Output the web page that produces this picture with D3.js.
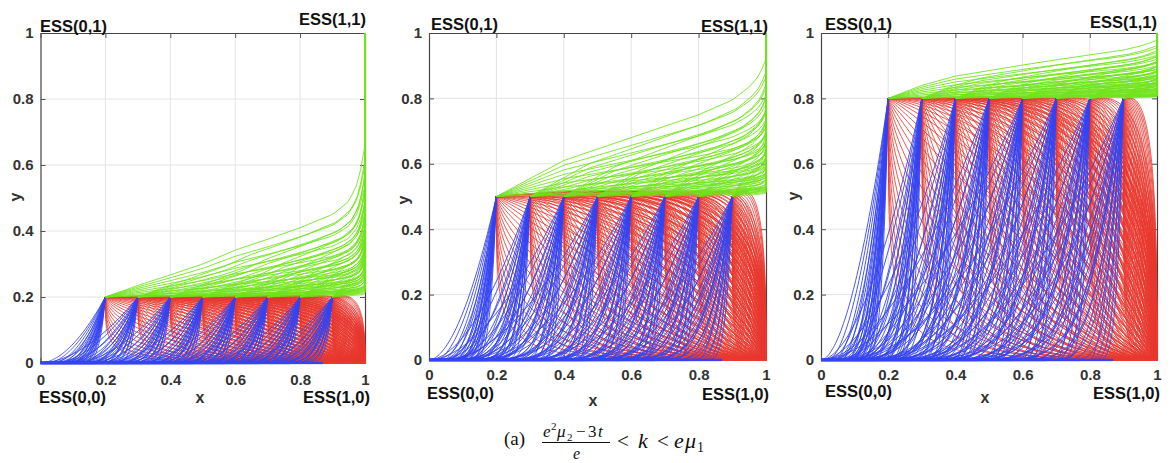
<!DOCTYPE html>
<html><head><meta charset="utf-8">
<script src="https://cdn.jsdelivr.net/npm/d3@7"></script>
<style>body{margin:0;background:#fff}</style>
</head><body><svg id="c" width="1173" height="463" xmlns="http://www.w3.org/2000/svg"></svg>
<script>
// ---------------- data ----------------
const panelH = [0.2, 0.5, 0.8];                 // height of the cusp row in each panel
const cuspX = [0.2, 0.3, 0.4, 0.5, 0.6, 0.7, 0.8, 0.9];
const tickValues = [0, 0.2, 0.4, 0.6, 0.8, 1];
const tickLabels = ["0", "0.2", "0.4", "0.6", "0.8", "1"];
const greenTopX  = [0.2, 0.3, 0.4, 0.5, 0.6, 0.7, 0.8, 0.9, 0.95, 0.98, 1.0];
const greenTopY1 = [0.2, 0.235, 0.267, 0.3, 0.342, 0.375, 0.41, 0.45, 0.49, 0.55, 0.66];
const greenTopY2 = [0.5, 0.555, 0.61, 0.645, 0.68, 0.715, 0.75, 0.795, 0.835, 0.87, 0.92];
const greenTopY3 = [0.8, 0.84, 0.868, 0.885, 0.902, 0.918, 0.933, 0.948, 0.96, 0.97, 0.978];
const blueMaxWidth = [0.3, 0.45, 0.6];          // how far left the blue fans reach
const blueShapes = [1.8, 2.8, 4.0, 5.5];        // blue fan curvature values
const redShapeRange = [0.32, 3.0];              // red fan curvature range
const redBump = [0.02, 0.07, 0.02];             // red overshoot above the cusp row
const essTop = ["ESS(0,1)", "ESS(1,1)"];
const essBottom = ["ESS(0,0)", "ESS(1,0)"];
const greenTops = [greenTopY1, greenTopY2, greenTopY3];

// ---------------- layout ----------------
const layout = [
  {l:40.5, r:365, t:33, b:363, xPad:11.5, e01:[40,26], e11:[366,19], e00:[39,397], e10:[370,397], xl:[200,397], yl:[15,197]},
  {l:429, r:766, t:33, b:360, xPad:9.5, e01:[431,24], e11:[768,26], e00:[427,393], e10:[769,394], xl:[593,400], yl:[403,200]},
  {l:821, r:1157, t:33, b:360, xPad:9.5, e01:[825,24], e11:[1157,22], e00:[825,391], e10:[1160,393], xl:[985,397], yl:[793,196]}
];
const RED = "#e8392f", BLUE = "#3444f2", GREEN = "#70e31c";
const FONT = "'Liberation Sans', Arial, Helvetica, sans-serif";

const svg = d3.select("#c");

function superPts(q, n) {
  const pts = [];
  for (let i = 0; i <= n; i++) {
    const th = (Math.PI / 2) * (1 - i / n);
    const c = Math.max(Math.cos(th), 0), s = Math.max(Math.sin(th), 0);
    pts.push([Math.pow(c, 2 / q), Math.pow(s, 2 / q)]);
  }
  return pts;
}

layout.forEach((L, p) => {
  const h = panelH[p];
  const x = d3.scaleLinear().domain([0, 1]).range([L.l, L.r]);
  const y = d3.scaleLinear().domain([0, 1]).range([L.b, L.t]);
  const line = d3.line().x(d => x(d[0])).y(d => y(d[1]));
  const g = svg.append("g");

  // grid
  const grid = g.append("g").attr("stroke", "#e4e4e4").attr("stroke-width", 1);
  tickValues.slice(1, -1).forEach(v => {
    grid.append("line").attr("x1", x(v)).attr("x2", x(v)).attr("y1", y(0)).attr("y2", y(1));
    grid.append("line").attr("x1", x(0)).attr("x2", x(1)).attr("y1", y(v)).attr("y2", y(v));
  });

  // axes
  const axCol = "#3a3a3a";
  const ax = g.append("g").style("font-family", FONT).style("color", axCol);
  ax.append("g").attr("transform", `translate(${L.l},0)`)
    .call(d3.axisLeft(y).tickValues(tickValues).tickFormat((d, i) => tickLabels[i]).tickSizeInner(-5).tickSizeOuter(0).tickPadding(7));
  ax.append("g").attr("transform", `translate(0,${L.b})`)
    .call(d3.axisBottom(x).tickValues(tickValues).tickFormat((d, i) => tickLabels[i]).tickSizeInner(-5).tickSizeOuter(0).tickPadding(L.xPad));
  ax.append("g").attr("transform", `translate(0,${L.t})`)
    .call(d3.axisTop(x).tickValues(tickValues).tickFormat("").tickSizeInner(-5).tickSizeOuter(0));
  ax.append("g").attr("transform", `translate(${L.r},0)`)
    .call(d3.axisRight(y).tickValues(tickValues).tickFormat("").tickSizeInner(-5).tickSizeOuter(0));
  ax.selectAll(".domain").attr("stroke", "#444").attr("stroke-width", 1.2);
  ax.selectAll(".tick line").attr("stroke", "#555");
  ax.selectAll(".tick text").style("font-size", "15px").style("font-weight", "bold").attr("fill", "#333");

  // clip
  const cid = "clip" + p;
  svg.append("clipPath").attr("id", cid).append("rect")
    .attr("x", L.l - 1).attr("y", L.t - 2).attr("width", L.r - L.l + 3).attr("height", L.b - L.t + 3.5);
  const plot = g.append("g").attr("clip-path", `url(#${cid})`).attr("fill", "none");

  // red trajectories -> ESS(1,0)
  const redG = plot.append("g").attr("stroke", RED).attr("stroke-width", 0.85);
  const nRed = 28;
  cuspX.forEach(x0 => {
    for (let k = 0; k < nRed; k++) {
      const q = redShapeRange[0] * Math.pow(redShapeRange[1] / redShapeRange[0], k / (nRed - 1));
      const bump = redBump[p] * Math.max(0, Math.min(1, (q - 1) / 1.5));
      const pts = superPts(q, 70).map(([u, v]) => [x0 + (1 - x0) * u, h * v + bump * u * v]);
      redG.append("path").attr("d", line(pts));
    }
    redG.append("path").attr("d", line([[x0, 0], [1, 0]])).attr("stroke-width", 2.2);
  });

  // blue trajectories -> ESS(0,0)
  const blueG = plot.append("g").attr("stroke", BLUE).attr("stroke-width", 0.9);
  const us = d3.range(0, 61).map(i => i / 60);
  cuspX.forEach(x0 => {
    const wMax = Math.min(blueMaxWidth[p], x0);
    const wMin = Math.min(0.1, wMax);
    for (let j = 0; j < 6; j++) {
      const w = wMin + (wMax - wMin) * j / 5;
      blueShapes.forEach(r => {
        const pts = us.map(u => [x0 - w * u, h * Math.pow(1 - u, r)]);
        pts.push([0, 0]);
        blueG.append("path").attr("d", line(pts));
      });
    }
    blueG.append("path").attr("d", line([[x0 - 0.03, 0], [0, 0]])).attr("stroke-width", 2.6);
  });

  // green trajectories -> ESS(1,1)
  const T = d3.scaleLinear().domain(greenTopX).range(greenTops[p]).clamp(true);
  const greenG = plot.append("g").attr("stroke", GREEN).attr("stroke-width", 0.9);
  const nG = 9;
  cuspX.forEach((x0, i) => {
    const sMax = 1 - 0.09 * i;
    for (let k = 0; k < nG; k++) {
      const s = sMax * Math.pow((k + 1) / nG, 1.2);
      const pts = [];
      const ts = d3.range(0, 61).map(t => t / 60).concat([0.99, 0.995]).sort((a, b) => a - b);
      ts.forEach(t => {
        const xx = x0 + (1 - x0) * t;
        const xp = 0.2 + 0.8 * t;
        pts.push([xx, h + s * (T(xp) - h)]);
      });
      pts.push([1, 1]);
      greenG.append("path").attr("d", line(pts));
    }
  });

  // labels
  const lab = g.append("g").style("font-family", FONT).style("font-weight", "bold").attr("fill", "#111");
  lab.append("text").attr("x", L.e01[0]).attr("y", L.e01[1]).attr("dominant-baseline", "central").style("font-size", "16.5px").text(essTop[0]);
  lab.append("text").attr("x", L.e11[0]).attr("y", L.e11[1]).attr("dominant-baseline", "central").attr("text-anchor", "end").style("font-size", "16.5px").text(essTop[1]);
  lab.append("text").attr("x", L.e00[0]).attr("y", L.e00[1]).attr("dominant-baseline", "central").style("font-size", "16.5px").text(essBottom[0]);
  lab.append("text").attr("x", L.e10[0]).attr("y", L.e10[1]).attr("dominant-baseline", "central").attr("text-anchor", "end").style("font-size", "16.5px").text(essBottom[1]);
  lab.append("text").attr("x", L.xl[0]).attr("y", L.xl[1]).attr("dominant-baseline", "central").attr("text-anchor", "middle").style("font-size", "16px").attr("fill", "#333").text("x");
  lab.append("text").attr("transform", `translate(${L.yl[0]},${L.yl[1]}) rotate(-90)`).attr("dominant-baseline", "central").attr("text-anchor", "middle").style("font-size", "16px").attr("fill", "#333").text("y");
});

// caption
const SERIF = "'Liberation Serif', 'DejaVu Serif', serif";
const cap = svg.append("g").style("font-family", SERIF).attr("fill", "#111");
function t(xp, yp, s, size, italic) {
  cap.append("text").attr("x", xp).attr("y", yp).style("font-size", size + "px")
    .style("font-style", italic ? "italic" : "normal").text(s);
}
t(504, 445, "(a)", 19, false);
t(543, 437, "e", 17, true);
t(551, 430, "2", 11, false);
t(557, 437, "μ", 17, true);
t(567, 441, "2", 11, false);
t(576, 437, "−", 17, false);
t(588, 437, "3", 17, false);
t(598, 437, "t", 17, true);
cap.append("line").attr("x1", 542).attr("x2", 610).attr("y1", 442.5).attr("y2", 442.5).attr("stroke", "#111").attr("stroke-width", 1.2);
t(573, 459, "e", 16, true);
t(617, 448, "<", 21, false);
t(638, 448, "k", 22, true);
t(657, 448, "<", 21, false);
t(674, 448, "e", 22, true);
t(685, 448, "μ", 22, true);
t(697, 452, "1", 14, false);
</script>
</body></html>
